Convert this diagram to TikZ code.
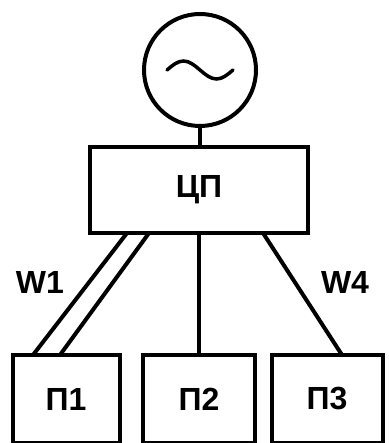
\documentclass[tikz,border=0pt]{standalone}
\usepackage{fontspec}
\setmainfont{Liberation Sans}
\begin{document}
\begin{tikzpicture}[x=1pt,y=-1pt,
  wire/.style={line width=4pt},
  unit/.style={draw,line width=4pt,inner sep=0pt},
  lbl/.style={font=\bfseries\fontsize{32}{34}\selectfont}]
\useasboundingbox (0,0) rectangle (388,443);
% AC source
\node[unit,circle,minimum size=112pt] (src) at (200,70) {};
\draw[line width=3.5pt,line cap=round] (167,70) sin (183.5,61) cos (200,70) sin (216.5,79) cos (233,70);
% central unit
\node[unit,minimum width=218pt,minimum height=86pt] (cp) at (199,190) {};
\node[lbl] (cpt) at (cp) {ЦП};
\draw[wire] (src.south) -- (src.south |- cp.north);
% peripheral units
\node[unit,minimum width=107pt,minimum height=88pt] (p1) at (66,399) {};
\node[unit,minimum width=112pt,minimum height=88pt] (p2) at (199,399) {};
\node[unit,minimum width=111pt,minimum height=88pt] (p3) at (327,399) {};
\node[lbl] (p1t) at (p1) {П1};
\node[lbl] (p2t) at (p2) {П2};
\node[lbl] (p3t) at (p3) {П3};
% links
\coordinate (a1) at (127,233); \coordinate (b1) at (33,355);
\coordinate (a2) at (149,233); \coordinate (b2) at (60,355);
\draw[wire] (a1) -- (b1);
\draw[wire] (a2) -- (b2);
\draw[wire] (cp.south -| p2.north) -- (p2.north);
\coordinate (a3) at (263,233); \coordinate (b3) at (342,355);
\draw[wire] (a3) -- (b3);
\node[lbl] (w1) at (40,282) {W1};
\node[lbl] (w4) at (345,282) {W4};
\end{tikzpicture}
\end{document}
